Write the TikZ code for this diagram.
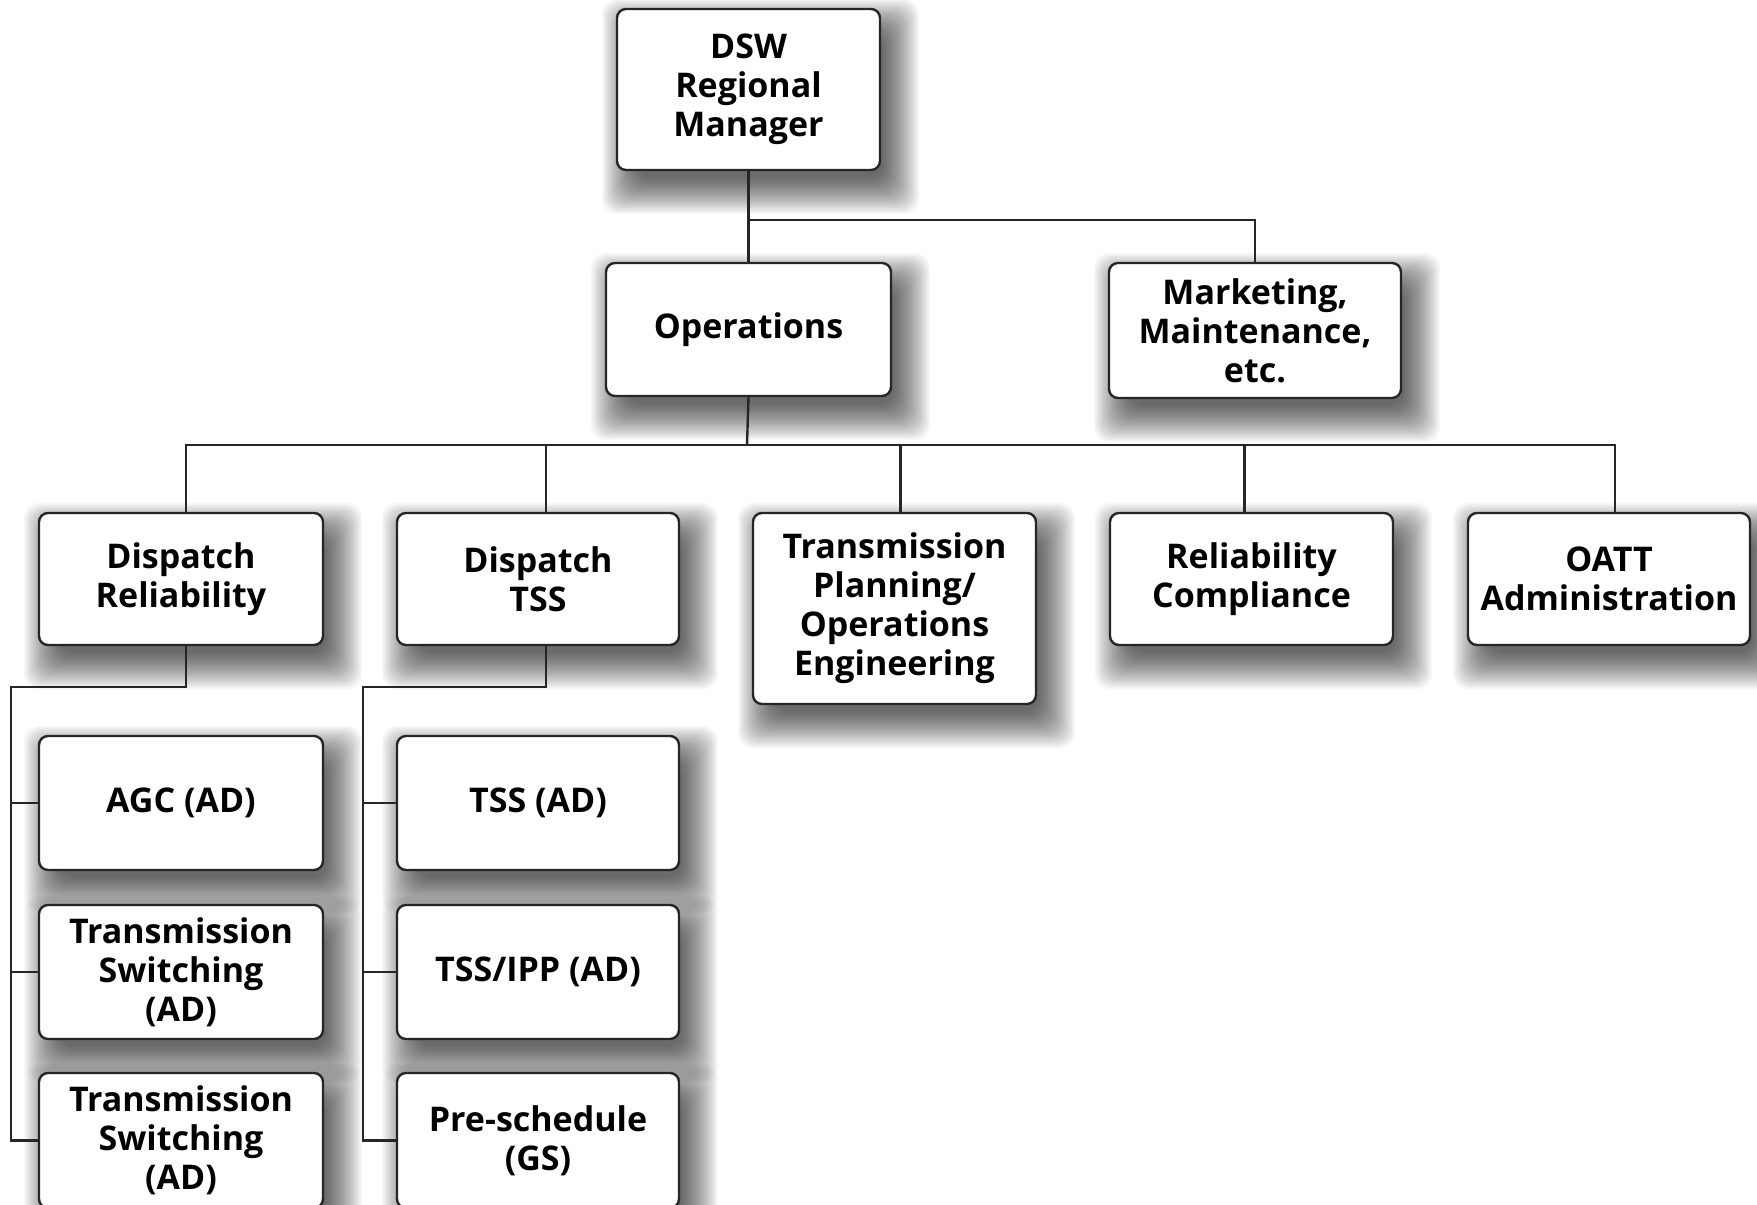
\documentclass[tikz,border=0pt]{standalone}
\usepackage{fontspec}
\setmainfont{Open Sans}
\usetikzlibrary{calc,backgrounds}
\pgfdeclarelayer{bottom}
\pgfdeclarelayer{background}
\pgfsetlayers{bottom,background,main}
\newcommand{\mkshadow}[1]{%
  \foreach \r in {-10,-8.5,...,26}{%
    \fill[black, opacity=0.03, rounded corners=16pt]
      ($(#1.north west)+({12-(\r)},{17-(\r)})$) rectangle
      ($(#1.south east)+({12+(\r)},{17+(\r)})$);
  }}
\begin{document}
\begin{tikzpicture}[x=1pt,y=-1pt,
  box/.style={draw=black!85, line width=2.4pt, rounded corners=9pt, fill=white,
    inner sep=0pt, align=center, font=\bfseries\fontsize{34}{39}\selectfont},
  conn/.style={draw=black!85, line width=2.4pt}]
\begin{pgfonlayer}{bottom}
\fill[white] (0,0) rectangle (1757,1205);
\end{pgfonlayer}
\useasboundingbox (0,0) rectangle (1757,1205);

% level 1
\node[box, minimum width=263pt, minimum height=161pt] (dsw) at (748.5,89.5) {DSW\\Regional\\Manager};
% level 2
\node[box, minimum width=285pt, minimum height=133pt] (ops) at (748.5,329.5) {Operations};
\node[box, minimum width=292pt, minimum height=135pt] (mkt) at (1255,330.5) {Marketing,\\Maintenance,\\etc.};
% level 3
\node[box, minimum width=284pt, minimum height=132pt] (dr) at (181,579) {Dispatch\\Reliability};
\node[box, minimum width=282pt, minimum height=132pt] (dtss) at (538,579) {Dispatch\\TSS};
\node[box, minimum width=283pt, minimum height=191pt] (tp) at (894.5,608.5) {Transmission\\Planning/\\Operations\\Engineering};
\node[box, minimum width=283pt, minimum height=132pt] (rc) at (1251.5,579) {Reliability\\Compliance};
\node[box, minimum width=282pt, minimum height=132pt] (oatt) at (1609,579) {OATT\\Administration};
% level 4 left
\node[box, minimum width=284pt, minimum height=134pt] (agc) at (181,803) {AGC (AD)};
\node[box, minimum width=284pt, minimum height=134pt] (ts1) at (181,972) {Transmission\\Switching\\(AD)};
\node[box, minimum width=284pt, minimum height=135pt] (ts2) at (181,1140.5) {Transmission\\Switching\\(AD)};
% level 4 right
\node[box, minimum width=282pt, minimum height=134pt] (tss) at (538,803) {TSS (AD)};
\node[box, minimum width=282pt, minimum height=134pt] (ipp) at (538,972) {TSS/IPP (AD)};
\node[box, minimum width=282pt, minimum height=135pt] (pre) at (538,1140.5) {Pre-schedule\\(GS)};

% soft drop shadows behind the boxes
\begin{pgfonlayer}{background}
\foreach \n in {dsw,ops,mkt,dr,dtss,tp,rc,oatt,agc,ts1,ts2,tss,ipp,pre}{\mkshadow{\n}}
\end{pgfonlayer}

% connector anchor points
\coordinate (j1) at (747,220);
\coordinate (j2) at (747,445);
\coordinate (ls) at (11,687);
\coordinate (rs) at (363,687);
\coordinate (drN) at ($(dr.north)+(5,0)$);
\coordinate (dtssN) at ($(dtss.north)+(8,0)$);
\coordinate (tpN) at ($(tp.north)+(6,0)$);
\coordinate (rcN) at ($(rc.north)+(-7,0)$);
\coordinate (oattN) at ($(oatt.north)+(6,0)$);
\coordinate (drS) at ($(dr.south)+(5,0)$);
\coordinate (dtssS) at ($(dtss.south)+(8,0)$);

\draw[conn] (dsw.south) -- (ops.north);
\draw[conn] (dsw.south |- j1) -| (mkt.north);

\draw[conn] (ops.south) -- (j2);
\draw[conn] (drN) |- (oattN |- j2) -- (oattN);
\draw[conn] (dtssN) -- (dtssN |- j2);
\draw[conn] (tpN) -- (tpN |- j2);
\draw[conn] (rcN) -- (rcN |- j2);

\draw[conn] (drS) |- (ls) |- (ts2.west);
\draw[conn] (agc.west) -- (agc.west -| ls);
\draw[conn] (ts1.west) -- (ts1.west -| ls);

\draw[conn] (dtssS) |- (rs) |- (pre.west);
\draw[conn] (tss.west) -- (tss.west -| rs);
\draw[conn] (ipp.west) -- (ipp.west -| rs);
\end{tikzpicture}
\end{document}
